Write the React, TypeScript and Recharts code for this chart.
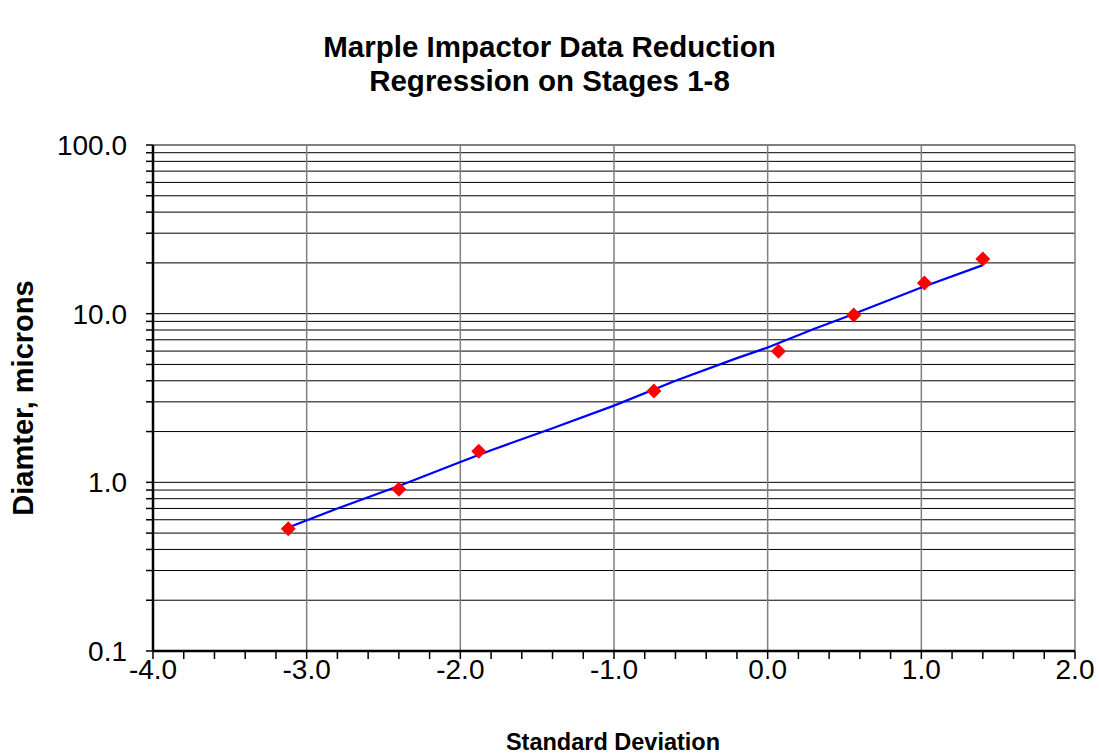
import React from 'react';
import { ComposedChart, Line, Scatter, XAxis, YAxis, CartesianGrid, ReferenceLine } from 'recharts';

const pointX = [-3.12, -2.4, -1.88, -0.74, 0.07, 0.56, 1.02, 1.4];
const pointD = [0.53, 0.91, 1.53, 3.48, 5.98, 9.81, 15.2, 21.1];

const lineX = [-3.12, -2.8, -2.4, -2.2, -2.0, -1.8, -1.4, -1.0, -0.6, -0.2, 0.0, 0.3, 0.5, 1.0, 1.4];
const lineD = [0.54, 0.7, 0.95, 1.12, 1.32, 1.55, 2.09, 2.85, 4.0, 5.45, 6.3, 8.1, 9.5, 14.3, 19.4];

const xTicks = [
  -4, -3.8, -3.6, -3.4, -3.2, -3, -2.8, -2.6, -2.4, -2.2, -2, -1.8, -1.6, -1.4, -1.2, -1,
  -0.8, -0.6, -0.4, -0.2, 0, 0.2, 0.4, 0.6, 0.8, 1, 1.2, 1.4, 1.6, 1.8, 2,
];
const xMajor = [-4, -3, -2, -1, 0, 1, 2];
const yTicks = [
  0.1, 0.2, 0.3, 0.4, 0.5, 0.6, 0.7, 0.8, 0.9,
  1, 2, 3, 4, 5, 6, 7, 8, 9,
  10, 20, 30, 40, 50, 60, 70, 80, 90, 100,
];
const yMajor = [0.1, 1, 10, 100];

const titleLines = ['Marple Impactor Data Reduction', 'Regression on Stages 1-8'];
const xLabel = 'Standard Deviation';
const yLabel = 'Diamter, microns';

const points = pointX.map((x, i) => ({ x, y: pointD[i] }));
const lineData = lineX.map((x, i) => ({ x, y: lineD[i] }));

const FONT = 'Arial, "Liberation Sans", sans-serif';

const Diamond = (props: any) => {
  const { cx, cy } = props;
  const r = 7.5;
  return <polygon points={`${cx},${cy - r} ${cx + r},${cy} ${cx},${cy + r} ${cx - r},${cy}`} fill="#FF0000" />;
};

export default function App() {
  return (
    <div style={{ position: 'absolute', left: 0, top: 0, width: 1099, height: 756, background: '#fff', fontFamily: FONT }}>
      <ComposedChart
        width={1099}
        height={756}
        margin={{ top: 145, right: 24, bottom: 45, left: 53 }}
      >
        <CartesianGrid vertical={false} stroke="#000" strokeWidth={1} />
        {xMajor.slice(1).map((v) => (
          <ReferenceLine key={v} x={v} stroke="#808080" strokeWidth={1.5} ifOverflow="visible" />
        ))}
        <XAxis
          dataKey="x"
          type="number"
          domain={[-4, 2]}
          ticks={xTicks}
          interval={0}
          allowDataOverflow
          height={60}
          tickSize={8}
          tickMargin={0}
          stroke="#000"
          axisLine={{ stroke: '#000', strokeWidth: 2.5 }}
          tickLine={{ stroke: '#000', strokeWidth: 1.5 }}
          tick={{ fill: '#000', fontSize: 28, fontFamily: FONT }}
          tickFormatter={(v: number) => (xMajor.some((m) => Math.abs(m - v) < 1e-9) ? v.toFixed(1) : '')}
        />
        <YAxis
          dataKey="y"
          type="number"
          scale="log"
          domain={[0.1, 100]}
          ticks={yTicks}
          interval={0}
          allowDataOverflow
          width={100}
          tickSize={7}
          tickMargin={19}
          axisLine={{ stroke: '#000', strokeWidth: 2.5 }}
          tickLine={{ stroke: '#000', strokeWidth: 1.5 }}
          tick={{ fill: '#000', fontSize: 28, fontFamily: FONT }}
          tickFormatter={(v: number) => (yMajor.some((m) => Math.abs(m - v) < 1e-9) ? v.toFixed(1) : '')}
        />
        <Line
          data={lineData}
          dataKey="y"
          type="linear"
          stroke="#0000FF"
          strokeWidth={2.2}
          dot={false}
          activeDot={false}
          isAnimationActive={false}
        />
        <Scatter data={points} dataKey="y" shape={<Diamond />} isAnimationActive={false} />
      </ComposedChart>
      <div style={{ position: 'absolute', left: 0, width: 1099, top: 30, textAlign: 'center', fontWeight: 'bold', fontSize: 29.5, lineHeight: '34px', color: '#000' }}>
        {titleLines.map((t) => (
          <div key={t}>{t}</div>
        ))}
      </div>
      <div style={{ position: 'absolute', left: 613 - 200, width: 400, top: 742 - 14, textAlign: 'center', fontWeight: 'bold', fontSize: 23.5, lineHeight: '28px', color: '#000' }}>
        {xLabel}
      </div>
      <div
        style={{
          position: 'absolute',
          left: 23 - 200,
          width: 400,
          top: 398 - 17,
          textAlign: 'center',
          fontWeight: 'bold',
          fontSize: 29,
          lineHeight: '34px',
          color: '#000',
          transform: 'rotate(-90deg)',
        }}
      >
        {yLabel}
      </div>
    </div>
  );
}
